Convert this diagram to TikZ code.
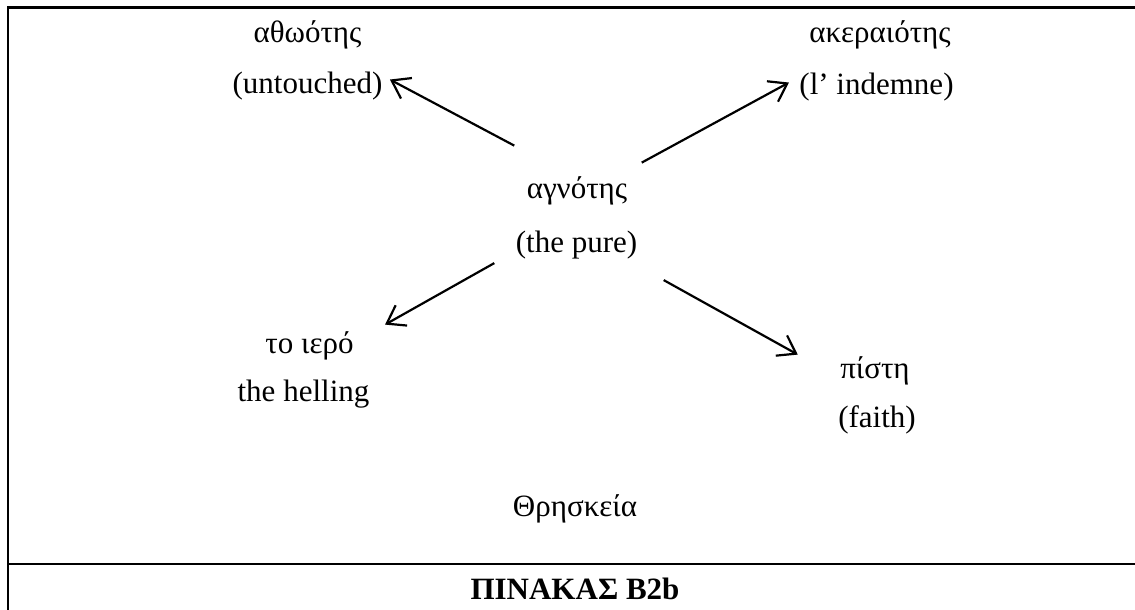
\documentclass[tikz,border=0pt]{standalone}
\usepackage{fontspec}
\setmainfont{Liberation Serif}
\usetikzlibrary{calc,arrows.meta}
\tikzset{
	word/.style={anchor=base, inner sep=0pt, font=\fontsize{12}{14}\selectfont},
	arr/.style={line width=0.85pt, -{Straight Barb[length=6.5pt, width=9pt, line width=0.85pt]}},
	frame/.style={line width=0.8pt}
}

\begin{document}
\begin{tikzpicture}[x=0.387pt, y=-0.387pt]
		%%%%% START %%%%%
		\useasboundingbox (0, 0) rectangle (1135, 610);
		
		\draw[frame] (8, 610) -- (8, 7.5) -- (1135, 7.5);
		\draw[frame] (8, 564) -- (1135, 564);
		
		\node[word] (athootis) at (307.5, 43) {αθωότης};
		\node[word] (untouched) at (307.5, 94) {(untouched)};
		
		\node[word] (akeraiotis) at (880, 43) {ακεραιότης};
		\node[word] (indemne) at (876.5, 95) {(l’ indemne)};
		
		\node[word] (agnotis) at (577, 199) {αγνότης};
		\node[word] (pure) at (576.5, 253) {(the pure)};
		
		\node[word] (iero) at (309.5, 354) {το ιερό};
		\node[word] (helling) at (303.5, 402) {the helling};
		
		\node[word] (pisti) at (875, 379) {πίστη};
		\node[word] (faith) at (877, 428) {(faith)};
		
		\node[word] (thriskeia) at (575, 517) {Θρησκεία};
		\node[word, font=\fontsize{12}{14}\selectfont\bfseries] (pinakas) at (575, 600) {ΠΙΝΑΚΑΣ Β2b};
		
		\draw[arr] ($(agnotis.north west)+(-12, -31)$) -- ($(untouched.east)+(7, -7)$);
		\draw[arr] ($(agnotis.north east)+(14, -14)$) -- ($(indemne.west)+(-10, -5)$);
		\draw[arr] ($(pure.south west)+(-21, 3)$) -- ($(iero.north east)+(31, -7)$);
		\draw[arr] ($(pure.south east)+(26, 20)$) -- ($(pisti.north west)+(-42, -2)$);
		
		%%%%% END %%%%%
	\end{tikzpicture}
\end{document}
